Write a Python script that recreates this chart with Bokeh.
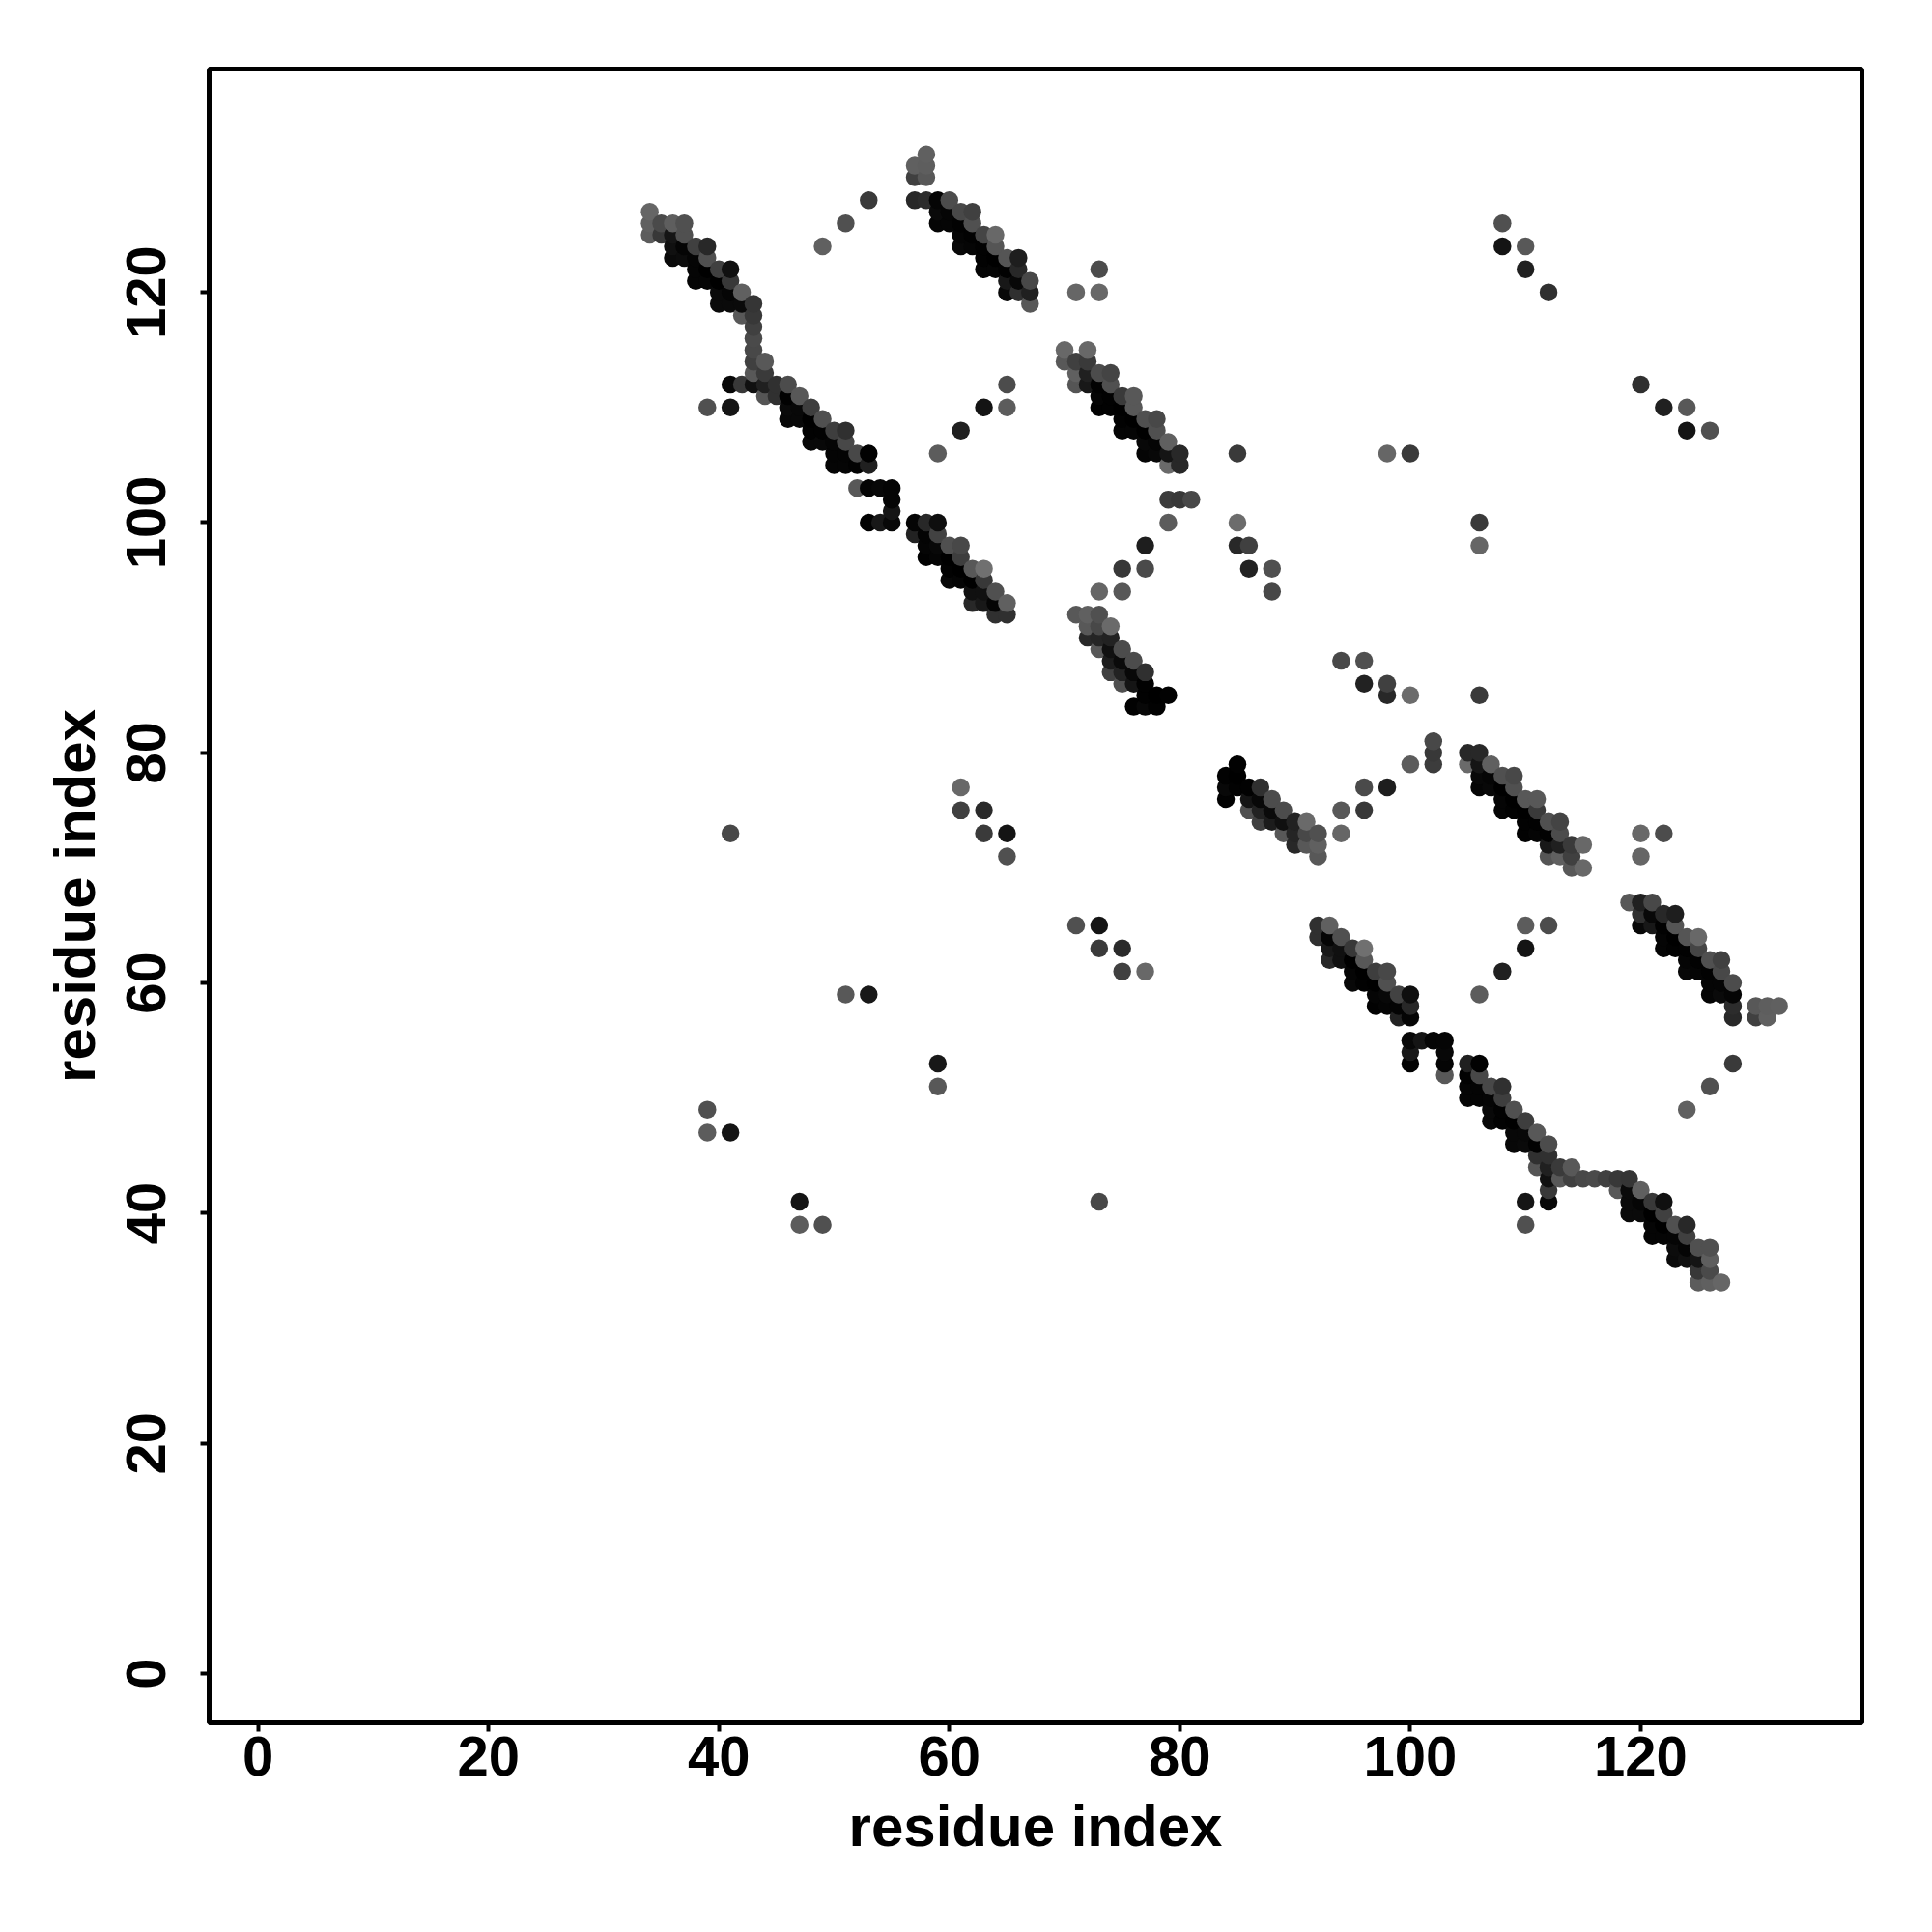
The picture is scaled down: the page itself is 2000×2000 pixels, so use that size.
from bokeh.plotting import figure
from bokeh.models import ColumnDataSource, FixedTicker
from bokeh.embed import file_html
from bokeh.resources import INLINE

# Each entry: (residue i, residue j, grey level). The map is symmetric in i and j.
strand_a = [
 (34,127,0x66),(34,126,0x60),(35,126,0x4a),(36,126,0x5e),(37,126,0x50),
 (34,125,0x5c),(35,125,0x38),(36,125,0x15),(37,125,0x50),
 (36,124,0x10),(37,124,0x05),(38,124,0x40),(39,124,0x28),
 (36,123,0x0a),(37,123,0x0c),(38,123,0x05),(39,123,0x50),
 (38,122,0x05),(39,122,0x00),(40,122,0x40),(41,122,0x10),
 (38,121,0x05),(39,121,0x05),(40,121,0x00),(41,121,0x38),
 (40,120,0x0a),(41,120,0x05),(42,120,0x60),
 (40,119,0x0a),(41,119,0x0a),(42,119,0x0a),(43,119,0x35),
 (42,118,0x58),(43,118,0x38),(43,117,0x40),(43,116,0x4a),(43,115,0x48),
 (43,114,0x40),(44,114,0x58),(43,113,0x58),(44,113,0x3a),
 (41,112,0x08),(42,112,0x38),(43,112,0x10),(44,112,0x20),(45,112,0x30),(46,112,0x4c),
 (44,111,0x55),(45,111,0x30),(46,111,0x02),(47,111,0x58),
 (46,110,0x0a),(47,110,0x08),(48,110,0x3e),
 (46,109,0x08),(47,109,0x08),(48,109,0x00),(49,109,0x50),
 (48,108,0x02),(49,108,0x02),(50,108,0x3e),(51,108,0x30),
 (48,107,0x08),(49,107,0x08),(50,107,0x05),(51,107,0x48),
 (50,106,0x04),(51,106,0x04),(52,106,0x48),(53,106,0x02),
 (50,105,0x05),(51,105,0x05),(52,105,0x02),(53,105,0x20),
 (52,103,0x58),(53,103,0x05),(54,103,0x08),(55,103,0x05),
 (55,102,0x05),(55,101,0x15),(53,100,0x02),(54,100,0x18),(55,100,0x08),
]
strand_b = [
 (58,132,0x60),(57,131,0x60),(58,131,0x5e),(57,130,0x40),(58,130,0x58),
 (57,128,0x28),(58,128,0x2c),(59,128,0x05),(60,128,0x4c),
 (59,127,0x0a),(60,127,0x05),(61,127,0x48),(62,127,0x40),
 (59,126,0x05),(60,126,0x05),(61,126,0x02),(62,126,0x50),
 (61,125,0x05),(62,125,0x02),(63,125,0x45),(64,125,0x68),
 (61,124,0x08),(62,124,0x05),(63,124,0x02),(64,124,0x55),
 (63,123,0x02),(64,123,0x00),(65,123,0x55),(66,123,0x1e),
 (63,122,0x05),(64,122,0x05),(65,122,0x02),(66,122,0x28),
 (65,121,0x18),(66,121,0x08),(67,121,0x48),
 (65,120,0x08),(66,120,0x30),(67,120,0x20),(67,119,0x58),
]
strand_c = [
 (70,115,0x68),(72,115,0x68),(70,114,0x58),(71,114,0x40),(72,114,0x3a),
 (71,113,0x60),(72,113,0x20),(73,113,0x4c),(74,113,0x44),
 (71,112,0x55),(72,112,0x18),(73,112,0x02),(74,112,0x50),
 (73,111,0x05),(74,111,0x02),(75,111,0x3a),(76,111,0x58),
 (73,110,0x02),(74,110,0x02),(75,110,0x00),(76,110,0x58),
 (75,109,0x02),(76,109,0x00),(77,109,0x50),(78,109,0x48),
 (75,108,0x05),(76,108,0x05),(77,108,0x00),(78,108,0x50),
 (77,107,0x08),(78,107,0x05),(79,107,0x60),
 (77,106,0x05),(78,106,0x08),(79,106,0x15),(80,106,0x28),
 (79,105,0x6a),(80,105,0x28),
 (79,102,0x3c),(80,102,0x38),(81,102,0x48),
]
strand_d = [
 (57,100,0x05),(58,100,0x28),(59,100,0x0e),
 (57,99,0x22),(58,99,0x04),(59,99,0x42),
 (58,98,0x05),(59,98,0x08),(60,98,0x50),(61,98,0x48),
 (58,97,0x02),(59,97,0x05),(60,97,0x00),(61,97,0x3e),
 (60,96,0x02),(61,96,0x00),(62,96,0x58),(63,96,0x70),
 (60,95,0x08),(61,95,0x05),(62,95,0x00),(63,95,0x38),
 (62,94,0x10),(63,94,0x10),(64,94,0x50),
 (62,93,0x28),(63,93,0x18),(64,93,0x05),(65,93,0x60),
 (64,92,0x30),(65,92,0x30),
]
strand_e = [
 (71,92,0x58),(72,92,0x60),(73,92,0x50),
 (72,91,0x58),(73,91,0x48),(74,91,0x6a),
 (72,90,0x28),(73,90,0x25),(74,90,0x22),
 (73,89,0x58),(74,89,0x10),(75,89,0x4c),
 (74,88,0x1c),(75,88,0x0a),(76,88,0x4c),
 (74,87,0x40),(75,87,0x22),(76,87,0x08),(77,87,0x30),
 (75,86,0x50),(76,86,0x15),(77,86,0x02),
 (77,85,0x02),(78,85,0x00),(79,85,0x02),
 (76,84,0x02),(77,84,0x08),(78,84,0x02),
]
isolated = [
 (39,110,0x50),(41,110,0x15),(49,124,0x60),(51,126,0x50),(53,128,0x3a),
 (73,122,0x4c),(71,120,0x66),(73,120,0x68),
 (65,112,0x4c),(63,110,0x14),(65,110,0x5c),(61,108,0x20),(59,106,0x5c),
 (85,106,0x3a),(98,106,0x66),(100,106,0x3a),(79,100,0x5c),(85,100,0x6c),
 (77,98,0x1e),(85,98,0x28),(86,98,0x40),(75,96,0x38),(77,96,0x4a),
 (86,96,0x22),(88,96,0x50),(73,94,0x66),(75,94,0x58),(88,94,0x48),
 (61,77,0x68),(61,75,0x40),(63,75,0x2a),(63,73,0x3a),(65,73,0x14),(65,71,0x50),
 (41,73,0x48),(51,59,0x58),(53,59,0x18),(39,49,0x50),(39,47,0x5c),(41,47,0x14),
 (108,126,0x50),(108,124,0x14),(110,124,0x58),(110,122,0x20),(112,120,0x30),
]
clusters = [strand_a, strand_b, strand_c, strand_d, strand_e, isolated]
tick_values = [0, 20, 40, 60, 80, 100, 120]
axis_title = "residue index"

points = []
for cluster in clusters:
    for i, j, g in cluster:
        points += [(i, j, g), (j, i, g)]
points.sort(key=lambda t: (t[0], t[1]))
xs = [t[0] for t in points]
ys = [t[1] for t in points]
cols = ["#%02x%02x%02x" % (t[2], t[2], t[2]) for t in points]

p = figure(frame_width=1711, frame_height=1712, output_backend="svg", toolbar_location=None,
           x_range=(-4.24, 139.2), y_range=(-4.28, 139.4),
           min_border_left=216, min_border_top=71, min_border_right=50, min_border_bottom=170,
           background_fill_color="white", border_fill_color="white")
p.grid.visible = False
p.outline_line_color = "black"
p.outline_line_width = 5
p.scatter(x="x", y="y", size=18.5, fill_color="c", line_color=None,
          source=ColumnDataSource(dict(x=xs, y=ys, c=cols)))
for ax in (p.xaxis[0], p.yaxis[0]):
    ax.ticker = FixedTicker(ticks=tick_values)
    ax.axis_label = axis_title
    ax.axis_label_text_font = "Liberation Sans"
    ax.axis_label_text_font_style = "bold"
    ax.axis_label_text_font_size = "60px"
    ax.axis_label_text_color = "black"
    ax.major_label_text_font = "Liberation Sans"
    ax.major_label_text_font_style = "bold"
    ax.major_label_text_font_size = "58px"
    ax.major_label_text_color = "black"
    ax.axis_line_color = None
    ax.major_tick_line_color = "black"
    ax.major_tick_line_width = 4
    ax.major_tick_in = 0
    ax.major_tick_out = 9
    ax.minor_tick_line_color = None
p.xaxis[0].major_label_standoff = 5
p.xaxis[0].axis_label_standoff = 16
p.yaxis[0].major_label_orientation = "parallel"
p.yaxis[0].major_label_standoff = 36
p.yaxis[0].axis_label_standoff = 18

open("out.html", "w").write(file_html(p, INLINE))
